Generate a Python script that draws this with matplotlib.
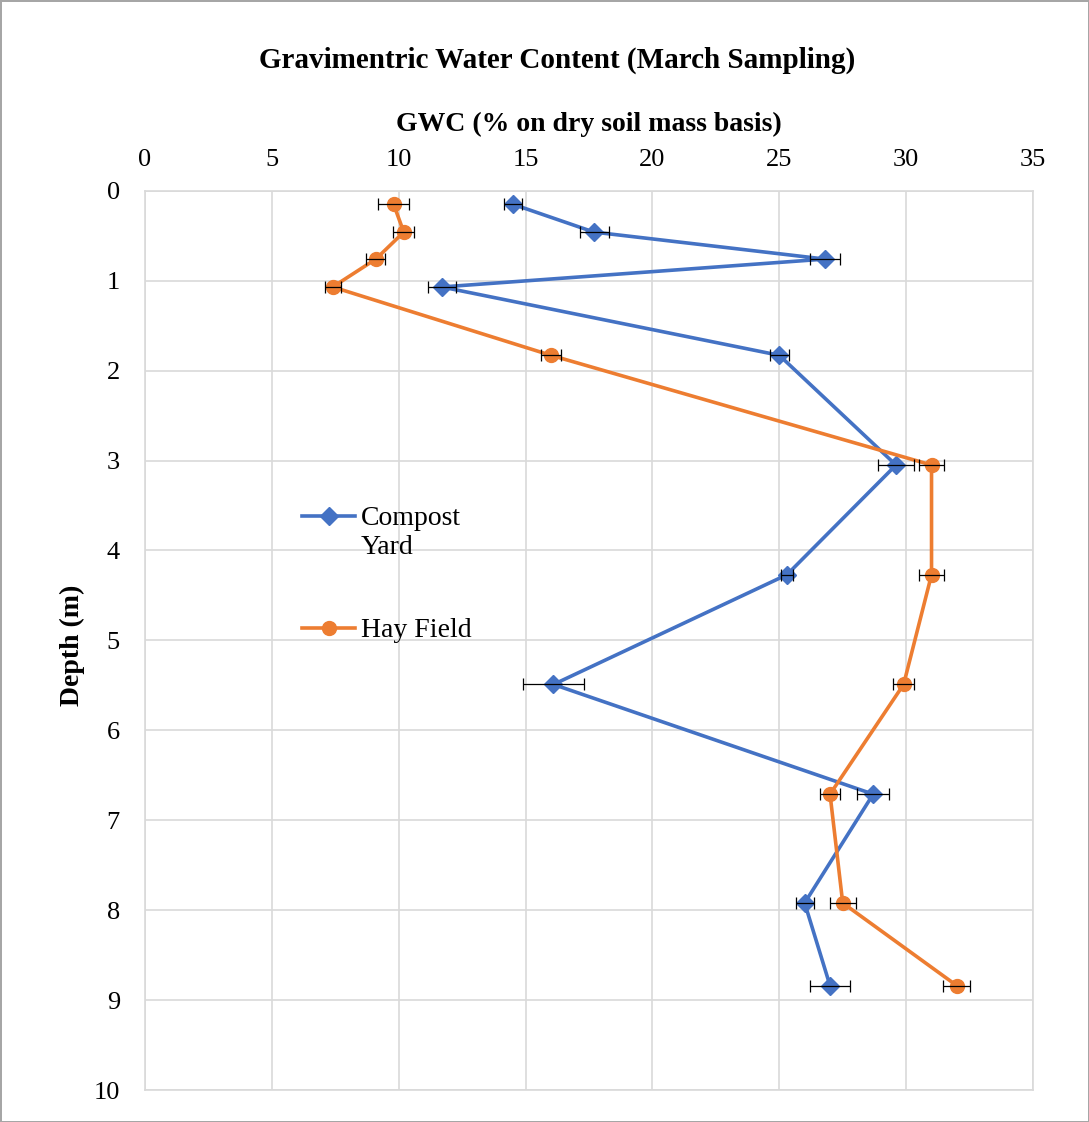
import matplotlib.pyplot as plt

# depth of each sample (m)
depth = [0.15, 0.46, 0.76, 1.07, 1.83, 3.05, 4.27, 5.49, 6.71, 7.92, 8.84]

# gravimetric water content (%) and error (+/-)
compost = [14.5, 17.7, 26.8, 11.7, 25.0, 29.6, 25.3, 16.1, 28.7, 26.0, 27.0]
compost_err = [0.35, 0.57, 0.6, 0.56, 0.37, 0.69, 0.25, 1.2, 0.64, 0.36, 0.77]
hay = [9.8, 10.2, 9.1, 7.4, 16.0, 31.0, 31.0, 29.9, 27.0, 27.5, 32.0]
hay_err = [0.6, 0.42, 0.37, 0.31, 0.41, 0.49, 0.49, 0.41, 0.4, 0.51, 0.53]

x_ticks = [0, 5, 10, 15, 20, 25, 30, 35]
y_ticks = [0, 1, 2, 3, 4, 5, 6, 7, 8, 9, 10]

blue = "#4472C4"
orange = "#ED7D31"
grid_col = "#D9D9D9"

plt.rcParams["font.family"] = ["Liberation Serif", "DejaVu Serif"]

fig = plt.figure(figsize=(10.89, 11.22), dpi=100)
fig.patch.set_edgecolor("#A6A6A6")
fig.patch.set_linewidth(2)
ax = fig.add_axes([0.1331, 0.0285, 0.8155, 0.8015])

ax.plot(compost, depth, color=blue, lw=2.6, marker="D", ms=9,
        label="Compost\nYard", zorder=3)
ax.plot(hay, depth, color=orange, lw=2.6, marker="o", ms=10,
        label="Hay Field", zorder=3)
ax.errorbar(compost, depth, xerr=compost_err, fmt="none", ecolor="black",
            elinewidth=0.9, capsize=4, capthick=0.9, zorder=4)
ax.errorbar(hay, depth, xerr=hay_err, fmt="none", ecolor="black",
            elinewidth=0.9, capsize=4, capthick=0.9, zorder=4)

ax.set_xlim(0, 35)
ax.set_ylim(10, 0)
ax.set_xticks(x_ticks)
ax.set_yticks(y_ticks)
ax.xaxis.tick_top()
ax.xaxis.set_label_position("top")
ax.tick_params(length=0, labelsize=19)
ax.tick_params(axis="x", pad=14)
ax.tick_params(axis="y", pad=18)
ax.grid(True, color=grid_col, lw=1.2)
ax.set_axisbelow(True)
for s in ax.spines.values():
    s.set_color(grid_col)
    s.set_linewidth(1.2)

ax.set_xlabel("GWC (% on dry soil mass basis)", fontsize=20, fontweight="bold")
ax.xaxis.set_label_coords(0.5, 1.0735)
ax.xaxis.label.set_va("center")
ax.set_ylabel("Depth (m)", fontsize=20, fontweight="bold")
ax.yaxis.set_label_coords(-0.0822, 0.495)
ax.yaxis.label.set_va("center")
fig.text(0.512, 0.9465, "Gravimentric Water Content (March Sampling)",
         fontsize=21, fontweight="bold", ha="center", va="center")

leg = ax.legend(loc="upper left", bbox_to_anchor=(0.149, 0.677), frameon=False,
                fontsize=20, handlelength=1.9, handletextpad=0.2,
                labelspacing=2.1)
# put the marker on the first line of the two-line label, like Excel
for row in leg._legend_handle_box.get_children()[0].get_children():
    row.align = "top"

plt.savefig("out.png", dpi=100)
